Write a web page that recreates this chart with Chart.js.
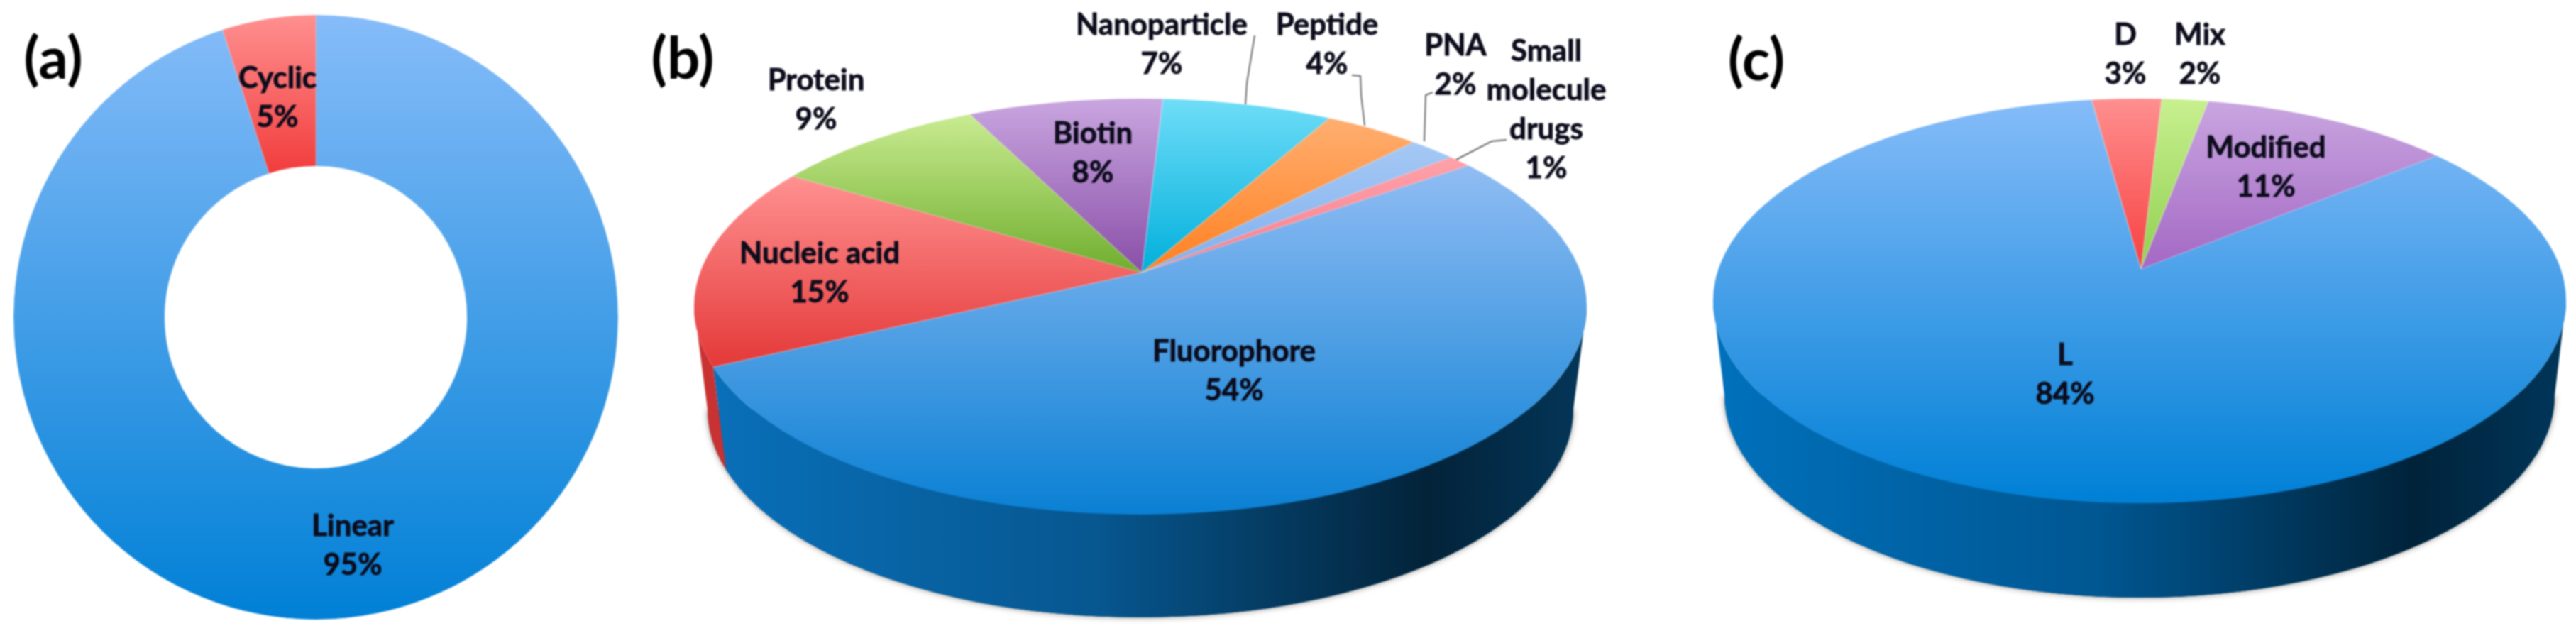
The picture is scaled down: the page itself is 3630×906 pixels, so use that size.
<!DOCTYPE html>
<html>
<head>
<meta charset="utf-8">
<title>Charts</title>
<script src="https://cdn.jsdelivr.net/npm/chart.js@4"></script>
<style>
    html, body { margin: 0; padding: 0; background: #fff; }
    #page { position: relative; width: 3630px; height: 906px; overflow: hidden; }
    canvas { position: absolute; left: 0; top: 0; filter: blur(1.1px); }
</style>
</head>
<body>
<div id="page">
    <canvas id="chartA" width="3630" height="906"></canvas>
    <canvas id="chartB" width="3630" height="906"></canvas>
    <canvas id="chartC" width="3630" height="906"></canvas>
</div>
<script>
// Panel (a)
const categoriesA = ['Linear', 'Cyclic'];
const valuesA = [95, 5];
// Panel (b)
const categoriesB = ['Fluorophore', 'Nucleic acid', 'Protein', 'Biotin', 'Nanoparticle', 'Peptide', 'PNA', 'Small\nmolecule\ndrugs'];
const valuesB = [54, 15, 9, 8, 7, 4, 2, 1];
// Panel (c)
const categoriesC = ['L', 'D', 'Mix', 'Modified'];
const valuesC = [84, 3, 2, 11];

// slice colours, light end and dark end of each gradient
const topColorsA = ['#86bcf9', '#ff9090'];
const bottomColorsA = ['#0080d6', '#f23c3c'];
const topColorsB = ['#8fbcf3', '#ff8f8f', '#c8eb90', '#c9a6e0', '#6fddf8', '#ffae70', '#a5c8f5', '#ffa0a8'];
const bottomColorsB = ['#0a80d4', '#e53a3a', '#6fae2e', '#8a4fa8', '#00b0dc', '#ff8020', '#7fb0ee', '#f58090'];
const topColorsC = ['#86bcf9', '#ff9090', '#c8f090', '#c9a6e0'];
const bottomColorsC = ['#0080d6', '#f84040', '#90d050', '#a468c4'];

// centre of each label (first line), in page pixels
const spotsA = [[497, 741], [391, 110]];
const spotsB = [[1739, 495], [1155, 357], [1150, 113], [1540, 188], [1637, 35], [1870, 35], [2051, 64], [2179, 72]];
const spotsC = [[2910, 500], [2995, 49], [3100, 49], [3193, 208]];

const leadersB = [
    [[1768, 50], [1757, 117], [1755, 147]],
    [[1905, 106], [1917, 107], [1918, 133], [1923, 177]],
    [[2019, 130], [2009, 134], [2007, 199]],
    [[2123, 197], [2102, 199], [2052, 225]]
];

// ax,ay = where the slices meet, cx,cy,rx,ry = outline of the top face
// rxUp,ryUp,ryDown set the slice directions on the far and near side of ax,ay
const shapeA = { ax: 445, ay: 447, cx: 445, cy: 447, rx: 426, ry: 426, rxUp: 426, ryUp: 426, ryDown: 426, depth: 0, over: 1 };
const shapeB = { ax: 1609, ay: 384, cx: 1607, cy: 432, rx: 629, ry: 293, rxUp: 553, ryUp: 245, ryDown: 341, depth: 145, bottomRx: 610, over: 1.35 };
const shapeC = { ax: 3017, ay: 379, cx: 3015, cy: 424, rx: 601, ry: 285, rxUp: 530, ryUp: 242, ryDown: 329, depth: 133, bottomRx: 585, over: 1.35 };

const FONT = 'bold 42px Lato';
const LINE_PITCH = 55;
const TAU = Math.PI * 2;

function shade(hex, f) {
    const n = parseInt(hex.slice(1), 16);
    const r = Math.round((n >> 16) * f);
    const g = Math.round(((n >> 8) & 255) * f);
    const b = Math.round((n & 255) * f);
    return `rgb(${r},${g},${b})`;
}

// y range of a slice on the page, for its gradient
function sliceExtent(el, s) {
    let lo = Infinity, hi = -Infinity;
    const inner = el.innerRadius / el.outerRadius;
    for (let i = 0; i <= 60; i++) {
        const a = el.startAngle + (el.endAngle - el.startAngle) * i / 60;
        const sin = Math.sin(a);
        const y = s.ay + sin * (sin < 0 ? s.ryUp : s.ryDown);
        const yIn = s.ay + sin * inner * (sin < 0 ? s.ryUp : s.ryDown);
        lo = Math.min(lo, y, yIn);
        hi = Math.max(hi, y, yIn);
    }
    return [lo, hi];
}

// angle on the top face outline where a slice edge ends
function rimAngle(s, a) {
    const sin = Math.sin(a);
    const dx = Math.cos(a) * (sin < 0 ? s.rxUp : s.rx) / s.rx;
    const dy = sin * (sin < 0 ? s.ryUp : s.ryDown) / s.ry;
    const ox = (s.ax - s.cx) / s.rx;
    const oy = (s.ay - s.cy) / s.ry;
    const A = dx * dx + dy * dy;
    const B = 2 * (ox * dx + oy * dy);
    const C = ox * ox + oy * oy - 1;
    const t = (-B + Math.sqrt(B * B - 4 * A * C)) / (2 * A);
    return Math.atan2(oy + t * dy, ox + t * dx);
}

function drawWall(ctx, els, s, bottoms) {
    // soft shadow round the lower edge
    ctx.save();
    ctx.shadowColor = 'rgba(60,50,40,0.55)';
    ctx.shadowBlur = 9;
    ctx.fillStyle = shade(bottoms[0], 0.6);
    ctx.beginPath();
    ctx.ellipse(s.cx, s.cy + s.depth, s.bottomRx, s.ry, 0, 0, Math.PI);
    ctx.closePath();
    ctx.fill();
    ctx.restore();

    els.forEach((el, i) => {
        let p0 = rimAngle(s, el.startAngle);
        let p1 = rimAngle(s, el.endAngle);
        if (p1 < p0) p1 += TAU;
        const lo = Math.max(p0, 0);
        const hi = Math.min(p1, Math.PI);
        if (hi <= lo) return;
        const grad = ctx.createLinearGradient(s.cx - s.rx, 0, s.cx + s.rx, 0);
        grad.addColorStop(0, shade(bottoms[i], 0.88));
        grad.addColorStop(0.45, shade(bottoms[i], 0.68));
        grad.addColorStop(0.82, shade(bottoms[i], 0.27));
        grad.addColorStop(1, shade(bottoms[i], 0.42));
        ctx.beginPath();
        ctx.ellipse(s.cx, s.cy, s.rx, s.ry, 0, lo, hi);
        ctx.ellipse(s.cx, s.cy + s.depth, s.bottomRx, s.ry, 0, hi, lo, true);
        ctx.closePath();
        ctx.fillStyle = grad;
        ctx.fill();
    });
}

// the far half and the near half of the face have different scales
function drawHalf(ctx, els, s, tops, bottoms, up) {
    const first = els[0];
    const sx = s.over * (up ? s.rxUp : s.rx) / first.outerRadius;
    const sy = s.over * (up ? s.ryUp : s.ryDown) / first.outerRadius;
    ctx.save();
    ctx.beginPath();
    ctx.rect(0, up ? 0 : s.ay, 3630, up ? s.ay : 906 - s.ay);
    ctx.clip();
    ctx.beginPath();
    ctx.ellipse(s.cx, s.cy, s.rx, s.ry, 0, 0, TAU);
    ctx.clip();
    ctx.translate(s.ax, s.ay);
    ctx.scale(sx, sy);
    ctx.translate(-first.x, -first.y);
    els.forEach((el, i) => {
        const ext = sliceExtent(el, s);
        const grad = ctx.createLinearGradient(0, first.y + (ext[0] - s.ay) / sy, 0, first.y + (ext[1] - s.ay) / sy);
        grad.addColorStop(0, tops[i]);
        grad.addColorStop(1, bottoms[i]);
        const saved = el.options;
        el.options = Object.assign({}, saved, { backgroundColor: grad });
        el.draw(ctx);
        el.options = saved;
    });
    ctx.restore();
}

const facePlugin = {
    id: 'face',
    beforeDatasetsDraw(chart, args, opts) {
        const els = chart.getDatasetMeta(0).data;
        if (opts.shape.depth > 0) drawWall(chart.ctx, els, opts.shape, opts.bottoms);
        drawHalf(chart.ctx, els, opts.shape, opts.tops, opts.bottoms, true);
        drawHalf(chart.ctx, els, opts.shape, opts.tops, opts.bottoms, false);
        return false;
    },
    afterDraw(chart, args, opts) {
        const ctx = chart.ctx;
        ctx.save();
        ctx.strokeStyle = '#6a6a6a';
        ctx.lineWidth = 2;
        (opts.leaders || []).forEach(pts => {
            ctx.beginPath();
            pts.forEach((p, i) => i ? ctx.lineTo(p[0], p[1]) : ctx.moveTo(p[0], p[1]));
            ctx.stroke();
        });
        ctx.textAlign = 'center';
        ctx.textBaseline = 'middle';
        ctx.font = FONT;
        ctx.fillStyle = '#0c0c1c';
        ctx.strokeStyle = '#0c0c1c';
        ctx.lineWidth = 0.8;
        opts.categories.forEach((cat, i) => {
            const lines = cat.split('\n').concat(opts.values[i] + '%');
            lines.forEach((t, k) => {
                ctx.fillText(t, opts.spots[i][0], opts.spots[i][1] + k * LINE_PITCH);
                ctx.strokeText(t, opts.spots[i][0], opts.spots[i][1] + k * LINE_PITCH);
            });
        });
        ctx.font = 'bold 82px Lato';
        ctx.fillStyle = '#000';
        ctx.fillText(opts.title[0], opts.title[1], opts.title[2]);
        ctx.restore();
    }
};

function makePanel(id, type, categories, values, tops, bottoms, shape, spots, title, rotation, leaders) {
    return new Chart(document.getElementById(id).getContext('2d'), {
        type: type,
        data: {
            labels: categories,
            datasets: [{
                data: values,
                backgroundColor: bottoms,
                borderWidth: 1,
                borderColor: 'rgba(255,255,255,0.2)'
            }]
        },
        options: {
            responsive: false,
            animation: false,
            devicePixelRatio: 1,
            events: [],
            rotation: rotation,
            cutout: type === 'doughnut' ? '50%' : 0,
            plugins: {
                legend: { display: false },
                tooltip: { enabled: false },
                face: { shape, tops, bottoms, categories, values, spots, title, leaders }
            }
        },
        plugins: [facePlugin]
    });
}

makePanel('chartA', 'doughnut', categoriesA, valuesA, topColorsA, bottomColorsA, shapeA, spotsA, ['(a)', 75, 85], 0);
makePanel('chartB', 'pie', categoriesB, valuesB, topColorsB, bottomColorsB, shapeB, spotsB, ['(b)', 962, 85], 53.5, leadersB);
makePanel('chartC', 'pie', categoriesC, valuesC, topColorsC, bottomColorsC, shapeC, spotsC, ['(c)', 2475, 87], 50);
</script>
</body>
</html>
